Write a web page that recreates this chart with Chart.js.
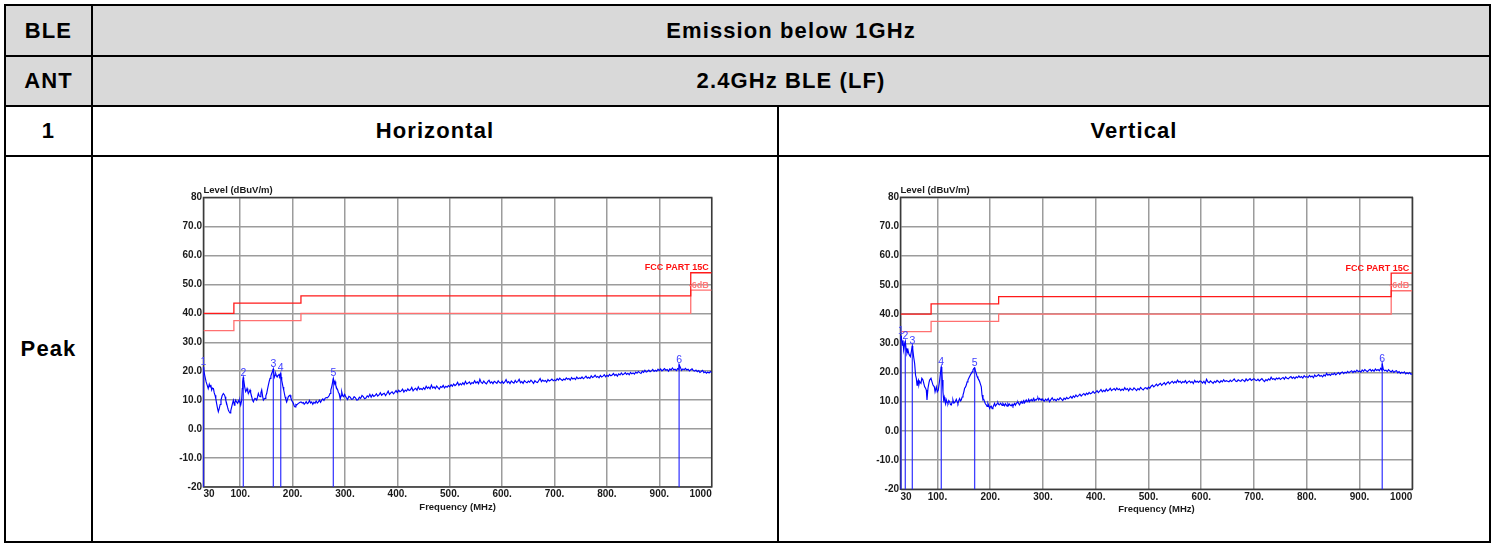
<!DOCTYPE html>
<html><head><meta charset="utf-8">
<script src="https://cdn.jsdelivr.net/npm/chart.js@4.4.1/dist/chart.umd.min.js"></script>
<style>
html,body{margin:0;padding:0;background:#fff;width:1495px;height:545px;overflow:hidden;}
.cell{position:absolute;display:flex;align-items:center;justify-content:center;font-family:"Liberation Sans",Arial,Helvetica,sans-serif;font-weight:bold;font-size:22px;letter-spacing:1.1px;color:#000;}
.gray{background:#d9d9d9;}
.ln{position:absolute;background:#000;}
canvas{position:absolute;}
</style></head>
<body>
<div class="cell gray" style="left:6px;top:6px;width:85px;height:49px;">BLE</div>
<div class="cell gray" style="left:93px;top:6px;width:1396px;height:49px;">Emission below 1GHz</div>
<div class="cell gray" style="left:6px;top:57px;width:85px;height:48px;">ANT</div>
<div class="cell gray" style="left:93px;top:57px;width:1396px;height:48px;">2.4GHz BLE (LF)</div>
<div class="cell" style="left:6px;top:107px;width:85px;height:48px;">1</div>
<div class="cell" style="left:93px;top:107px;width:684px;height:48px;">Horizontal</div>
<div class="cell" style="left:779px;top:107px;width:710px;height:48px;">Vertical</div>
<div class="cell" style="left:6px;top:157px;width:85px;height:384px;">Peak</div>
<div class="ln" style="left:4px;top:4px;width:1487px;height:2px;"></div>
<div class="ln" style="left:4px;top:541px;width:1487px;height:2px;"></div>
<div class="ln" style="left:4px;top:4px;width:2px;height:539px;"></div>
<div class="ln" style="left:1489px;top:4px;width:2px;height:539px;"></div>
<div class="ln" style="left:91px;top:4px;width:2px;height:539px;"></div>
<div class="ln" style="left:4px;top:55px;width:1487px;height:2px;"></div>
<div class="ln" style="left:4px;top:105px;width:1487px;height:2px;"></div>
<div class="ln" style="left:4px;top:155px;width:1487px;height:2px;"></div>
<div class="ln" style="left:777px;top:105px;width:2px;height:438px;"></div>
<canvas id="chartH" width="600" height="345" style="left:143px;top:175px;"></canvas>
<canvas id="chartV" width="600" height="345" style="left:840px;top:175px;"></canvas>
<script>
const FAMILY = '"Liberation Sans", Arial, Helvetica, sans-serif';
const X_TICKS = [30,100,200,300,400,500,600,700,800,900,1000];
const LIMIT_FREQ = [30,88,88,216,216,960,960,1000];
const LIMIT_LEVEL = [40,40,43.5,43.5,46,46,54,54];
const MARGIN_LEVEL = [34,34,37.5,37.5,40,40,48,48];
const MARK_NAMES = ['1','2','3','4','5','6'];
const SWEEP_START = 300, SWEEP_STEP = 2.5;

// Horizontal polarisation: low band readings [MHz, dBuV/m]
const H_LOW = [[30,20.5],[31,19.8],[33,18.0],[35,16.3],[37,15.2],[39,14.0],[41,15.5],[42.5,14.6],[44,15.3],[45.6,13.5],[47,14.2],[49,14.0],[50.5,12.5],[52,11.7],[53.5,10.5],[55,8.9],[57,7.0],[58.3,6.0],[60,7.1],[61.8,8.5],[63.4,10.0],[65.5,11.5],[67.9,12.3],[70,11.8],[71.1,11.2],[72.5,10.0],[74.2,8.9],[76,7.5],[77.4,6.6],[79,6.0],[80.6,5.6],[82,6.3],[83.8,7.7],[85.5,9.0],[87,10.0],[88.9,8.3],[90,9.2],[91.4,10.0],[93,9.4],[95.2,8.9],[96.5,9.8],[97.8,9.4],[99.3,9.7],[101,8.3],[102.9,10.0],[104,14.0],[104.8,16.3],[106.7,17.1],[108.6,14.6],[110.5,12.9],[111.8,13.3],[113.1,14.0],[114.5,13.0],[115.6,12.3],[117,12.7],[118.8,13.5],[120,12.6],[122,11.2],[123.5,10.0],[125.2,9.4],[126.8,10.2],[128.3,10.6],[130,10.3],[131.5,10.0],[133,11.0],[134.7,12.3],[136.3,11.5],[137.9,11.2],[139.5,12.5],[141.1,13.5],[142.7,11.5],[144.3,10.0],[146,10.4],[147.4,10.6],[149,11.5],[150.6,12.3],[152.2,13.8],[153.8,15.2],[155.4,16.5],[157,17.5],[158.6,18.3],[160.2,19.2],[161.5,19.8],[164,19.8],[165.3,18.0],[166.5,18.6],[167.8,19.2],[169,18.5],[170.3,18.0],[171.5,18.4],[172.9,18.6],[174.2,18.9],[175.4,18.3],[178,18.0],[179.3,16.8],[180.5,15.7],[181.8,14.5],[183.1,13.5],[184.4,12.3],[185.6,11.2],[187.2,10.2],[188.8,9.4],[190.4,10.3],[192,11.2],[193.6,11.5],[195.2,11.7],[196.8,10.8],[198.4,10.0],[200,9.4],[201.5,8.9],[203.1,8.0],[204.7,7.7],[206.3,8.5],[207.9,8.3],[209.5,8.6],[211.1,8.9],[213.6,9.2],[216.2,9.4],[218.4,9.0],[220.6,9.2],[222.2,8.6],[223.8,8.9],[226,9.5],[228,8.8],[230.2,9.1],[232.3,9.9],[234.4,9.0],[236.5,9.4],[238.6,8.6],[240.7,9.3],[242.9,8.9],[245,9.7],[247.2,9.0],[249.3,9.4],[251.4,10.0],[253.5,9.3],[255.6,10.0],[257.7,10.4],[259.9,9.9],[262,10.6],[264.1,10.9],[266.3,10.8],[268.4,11.2],[270,11.6],[271.5,12.3],[273,13.5],[274.7,14.6],[276,15.8],[279.8,15.7],[281,16.4],[282.4,15.2],[284.3,14.2],[286.2,13.5],[287.5,12.6],[288.7,12.3],[290,11.2],[291.3,10.6],[292.5,11.5],[293.8,12.9],[295.7,11.5],[297.6,11.2],[299,12.0]];
// Horizontal: sweep 300..1000 MHz every 2.5 MHz (one row = 50 MHz)
const H_HIGH = [
11.7,10.9,10.2,11.3,11.0,10.3,10.4,11.2,10.8,10.0,10.1,11.0,10.6,11.6,11.2,10.5,10.7,11.5,11.1,12.0,
11.0,11.9,11.3,11.6,12.2,11.4,11.8,12.6,11.7,12.1,12.4,11.6,12.3,13.1,12.0,12.5,12.9,12.2,12.7,13.3,
12.6,13.4,12.9,13.2,13.8,12.8,13.5,13.1,13.9,13.3,13.6,14.4,13.2,13.8,14.1,13.4,14.6,13.7,14.0,13.6,
14.3,13.7,14.8,14.1,14.5,13.9,15.2,14.2,14.6,14.0,14.9,14.3,13.8,14.7,14.4,15.1,14.2,14.8,14.5,15.0,
14.6,15.3,14.8,15.6,15.0,15.4,16.2,15.1,15.7,15.3,16.0,15.4,16.5,15.6,15.9,16.3,15.5,16.1,15.8,16.7,
15.9,16.4,15.7,17.2,16.1,15.8,16.6,16.0,15.6,16.4,16.9,15.9,16.3,15.7,16.5,16.2,15.8,16.7,16.1,15.9,
16.5,15.8,16.3,17.1,16.0,16.4,15.7,16.6,16.2,15.9,16.8,16.1,16.5,17.2,16.0,16.4,15.8,16.7,16.3,16.0,
16.6,16.2,16.9,16.4,15.8,16.7,16.3,16.1,16.8,17.5,16.4,16.9,16.5,16.8,16.2,17.1,16.6,16.9,17.3,16.7,
17.0,16.7,17.4,16.9,17.6,17.1,16.8,17.3,17.0,17.7,17.2,17.5,16.9,17.8,17.3,17.6,17.1,18.0,17.4,17.7,
17.5,18.0,17.4,17.8,18.3,17.6,17.9,17.5,18.4,17.8,18.1,18.6,17.9,18.2,17.7,18.5,18.0,18.3,18.8,18.1,
18.6,18.2,18.9,18.4,18.7,19.2,18.5,18.9,18.3,19.1,18.7,19.4,18.8,19.0,19.5,18.9,19.3,18.8,19.6,19.1,
19.4,19.0,19.7,19.3,19.9,19.5,19.2,20.0,19.6,20.3,19.7,19.9,20.4,19.8,20.1,20.6,19.9,20.3,20.0,20.7,
20.2,20.8,20.1,20.5,20.9,20.3,20.6,20.0,20.8,20.4,21.1,20.5,20.7,20.2,20.9,20.6,21.4,20.3,20.8,20.5,
21.0,20.4,20.7,20.1,20.5,20.8,20.2,20.0,20.4,19.8,20.2,19.6,19.9,20.3,19.5,19.8,19.3,19.7,19.4,19.9,
19.5];
const H_MARK_FREQ = [30.0,106.0,163.3,177.4,277.8,937.8];
const H_MARK_LEVEL = [21.5,17.8,20.8,19.3,17.5,22.3];

// Vertical polarisation
const V_LOW = [[30,31.0],[31.8,31.8],[33.5,29.4],[34.7,31.0],[36,27.7],[37.9,29.9],[40.5,28.3],[42.3,26.6],[44.2,27.7],[46.1,26.2],[48.6,25.4],[50.5,27.1],[53.2,28.0],[54.9,25.4],[56.8,23.1],[58.5,19.1],[60,18.0],[61.3,15.7],[62.5,16.8],[63.8,17.4],[65,15.9],[66.3,16.9],[68.8,16.3],[70.4,18.0],[72.6,17.4],[74.5,16.0],[75.8,15.1],[77.5,14.6],[78.9,14.0],[80.2,10.6],[82.1,14.6],[84,16.5],[85.2,17.4],[87.8,18.0],[89.6,16.9],[91.6,15.7],[94.1,15.1],[95.5,13.4],[97.9,15.1],[99.7,13.4],[101.6,14.0],[104.2,17.4],[106.2,20.5],[108.3,20.9],[109.2,17.4],[110.5,13.4],[111.8,10.6],[113,11.5],[114.3,10.0],[115.5,9.2],[116.8,10.6],[118.3,9.8],[120,9.4],[121.5,10.4],[123.1,10.0],[124.7,9.0],[126.3,8.9],[127.9,9.9],[129.4,10.6],[131,9.5],[132.6,9.7],[134.2,10.2],[135.7,10.8],[137.3,10.0],[138.9,9.4],[140.5,10.4],[142.1,11.1],[143.7,10.3],[145.2,10.6],[146.8,11.6],[148.4,12.3],[150,13.3],[151.5,14.6],[153.1,15.0],[154.7,15.7],[156.3,16.8],[157.8,17.4],[159.4,18.0],[161,18.6],[162.6,19.2],[164.2,19.7],[165.8,20.2],[167.3,20.9],[169,21.4],[172,20.6],[173.6,19.7],[175.2,18.6],[176.8,18.0],[178.3,17.6],[179.9,16.9],[181.5,16.0],[183.1,15.1],[184.5,12.3],[186.3,10.6],[187.8,10.8],[189.4,10.0],[191,9.2],[192.6,8.9],[194.1,8.4],[195.7,9.4],[197.3,8.6],[198.9,7.7],[200.5,8.3],[202,8.5],[203.6,7.6],[205.2,8.1],[206.8,8.8],[208.3,9.4],[209.9,8.5],[211.5,8.9],[213,9.3],[214.6,9.7],[216.2,9.0],[217.8,8.9],[219.4,9.5],[221,9.2],[222.5,8.7],[224.1,9.4],[225.7,9.0],[227.2,8.6],[228.8,9.3],[230.4,8.9],[232,8.5],[233.6,9.3],[235.2,8.8],[236.8,9.2],[238.4,8.7],[240,8.6],[241.5,9.1],[243.1,8.5],[244.7,9.0],[246.2,9.4],[247.8,8.8],[249.4,9.4],[251,9.7],[252.6,9.9],[254.1,9.3],[255.7,8.9],[257.3,9.6],[258.9,10.1],[260.4,9.5],[262,10.0],[263.6,10.4],[265.1,9.6],[266.7,10.1],[268.3,10.6],[269.9,10.0],[271.5,10.2],[273,10.8],[274.6,10.0],[276.2,10.5],[277.8,10.8],[279.4,10.3],[281,10.8],[282.5,11.2],[284.1,10.3],[285.7,10.7],[287.3,10.6],[288.9,11.0],[290.5,11.3],[292,10.6],[293.6,11.1],[295.2,10.8],[296.8,10.5],[298.3,11.0]];
// Vertical: sweep 300..1000 MHz every 2.5 MHz (one row = 50 MHz)
const V_HIGH = [
10.6,10.2,10.9,10.4,11.1,10.0,10.7,11.3,10.5,10.8,10.3,11.0,10.6,11.4,10.9,10.4,11.2,10.8,11.5,11.0,
11.3,11.8,11.2,12.0,11.5,12.3,11.7,12.1,12.6,11.9,12.4,12.8,12.2,12.9,12.5,13.2,12.7,13.0,13.5,12.9,
13.3,13.8,13.1,13.6,14.2,13.4,13.9,13.5,14.3,13.7,14.0,14.6,13.8,14.2,14.5,13.9,14.7,14.1,14.4,13.8,
14.3,13.9,14.8,14.1,14.5,13.7,14.6,14.2,14.0,14.7,14.3,13.8,14.5,14.1,14.9,14.4,14.0,14.6,14.8,14.3,
15.0,14.6,15.3,15.7,15.1,15.5,16.0,15.4,15.9,16.3,15.6,16.1,16.5,15.8,16.4,16.8,16.1,16.6,17.0,16.4,
16.9,16.5,17.4,16.7,17.0,16.4,16.9,16.6,17.2,16.3,16.8,17.1,16.5,16.9,16.2,17.3,16.7,17.0,16.6,17.1,
16.9,16.4,17.0,16.2,17.7,16.8,16.5,17.1,16.7,16.3,17.0,16.6,17.3,16.9,16.5,17.2,16.8,17.5,16.9,17.2,
17.0,16.8,17.4,16.9,17.3,17.8,17.1,16.9,17.5,17.2,17.0,17.6,17.3,16.9,17.8,17.2,17.5,17.9,17.3,17.6,
17.9,17.4,17.2,17.7,17.1,17.5,17.9,17.3,16.9,17.6,17.2,17.8,17.4,18.4,17.7,17.9,17.5,18.1,17.8,18.2,
17.6,18.0,18.3,17.7,18.5,18.0,17.8,18.3,18.6,18.0,18.4,17.9,18.5,18.2,18.8,18.3,18.6,18.1,18.9,18.4,
18.6,18.3,19.0,18.5,18.8,18.2,19.1,18.6,18.9,19.3,18.7,19.0,18.5,19.2,18.8,19.7,19.1,19.4,19.0,19.6,
19.3,19.8,19.2,19.6,20.0,19.4,19.9,20.2,19.6,20.1,19.8,20.4,19.9,20.3,20.6,20.0,20.5,20.2,20.8,20.3,
20.5,20.1,20.9,20.4,21.0,20.6,20.3,20.8,21.1,20.5,20.9,20.4,21.2,20.7,21.0,20.6,21.4,20.8,21.1,20.6,
20.8,20.3,21.0,20.5,20.2,20.7,20.0,20.4,20.6,19.9,20.3,19.7,20.1,19.8,20.2,19.5,19.9,19.6,20.0,19.4,
19.6];
const V_MARK_FREQ = [31.0,39.1,52.4,107.3,170.5,943.0];
const V_MARK_LEVEL = [32.5,30.7,29.1,21.9,21.6,23.0];

function buildTrace(low, high, mf, ml) {
  const pts = low.map(p => ({x: p[0], y: p[1]}));
  high.forEach((v, i) => pts.push({x: SWEEP_START + i * SWEEP_STEP, y: v}));
  mf.forEach((f, i) => pts.push({x: f, y: ml[i]}));
  return pts.sort((a, b) => a.x - b.x);
}
function buildMarkers(mf, ml) {
  const pts = [];
  mf.forEach((f, i) => { pts.push({x: f, y: -20}, {x: f, y: ml[i]}, {x: f, y: null}); });
  return pts;
}
function buildStep(levels) { return LIMIT_FREQ.map((f, i) => ({x: f, y: levels[i]})); }

const framePlugin = {
  id: 'frame',
  beforeDatasetsDraw(chart) {
    const {ctx, chartArea: a} = chart;
    ctx.save();
    ctx.strokeStyle = '#3a3a3a';
    ctx.lineWidth = 1.5;
    ctx.strokeRect(a.left, a.top, a.right - a.left, a.bottom - a.top);
    ctx.restore();
  }
};
const labelPlugin = {
  id: 'emiLabels',
  afterDatasetsDraw(chart, args, opts) {
    const {ctx, scales: {x, y}} = chart;
    ctx.save();
    ctx.font = 'normal 10.5px ' + FAMILY;
    ctx.fillStyle = '#4040ff';
    ctx.textAlign = 'center';
    ctx.textBaseline = 'alphabetic';
    opts.markF.forEach((f, i) => {
      ctx.fillText(MARK_NAMES[i], x.getPixelForValue(f), y.getPixelForValue(opts.markL[i]) - 2);
    });
    ctx.textAlign = 'right';
    ctx.font = 'bold 9px ' + FAMILY;
    ctx.fillStyle = '#ff1010';
    ctx.fillText('FCC PART 15C', x.getPixelForValue(1000) - 3, y.getPixelForValue(LIMIT_LEVEL[7]) - 2.5);
    ctx.fillStyle = '#ff7a7a';
    ctx.fillText('-6dB', x.getPixelForValue(1000) - 3, y.getPixelForValue(MARGIN_LEVEL[7]) - 2.5);
    ctx.restore();
  }
};

function makeChart(id, low, high, mf, ml, pad, xh) {
  const tickFont = {family: FAMILY, size: 10, weight: 'bold'};
  const titleFont = {family: FAMILY, size: 9.5, weight: 'bold'};
  const grid = {color: '#9c9c9c', lineWidth: 1.5, drawTicks: false};
  return new Chart(document.getElementById(id), {
    type: 'line',
    data: {datasets: [
      {data: buildStep(LIMIT_LEVEL), borderColor: '#ff1a1a', borderWidth: 1.3, pointRadius: 0, tension: 0},
      {data: buildStep(MARGIN_LEVEL), borderColor: '#ff7070', borderWidth: 1.3, pointRadius: 0, tension: 0},
      {data: buildTrace(low, high, mf, ml), borderColor: '#0000ff', borderWidth: 1.15, pointRadius: 0, tension: 0},
      {data: buildMarkers(mf, ml), borderColor: 'rgba(30,30,255,0.85)', borderWidth: 1.3, pointRadius: 0, spanGaps: false, clip: false}
    ]},
    options: {
      responsive: false, animation: false, events: [],
      layout: {padding: pad},
      plugins: {
        legend: {display: false}, tooltip: {enabled: false},
        title: {display: true, text: 'Level (dBuV/m)', align: 'start', fullSize: false, color: '#1a1a1a', font: titleFont, padding: {top: 0, bottom: 1.5}},
        emiLabels: {markF: mf, markL: ml}
      },
      scales: {
        x: {type: 'linear', min: 30, max: 1000,
          afterBuildTicks: s => { s.ticks = X_TICKS.map(v => ({value: v})); },
          afterFit: s => { s.height = xh; },
          ticks: {align: 'inner', autoSkip: false, maxRotation: 0, padding: 1.5, color: '#1a1a1a', font: tickFont,
            callback: v => (v === 30 || v === 1000) ? String(v) : v + '.'},
          grid: grid, border: {display: false},
          title: {display: true, text: 'Frequency (MHz)', color: '#1a1a1a', font: titleFont, padding: {top: 0, bottom: 0}}
        },
        y: {type: 'linear', min: -20, max: 80,
          afterFit: s => { s.width = 60; },
          ticks: {stepSize: 10, padding: 1.5, color: '#1a1a1a', font: tickFont,
            callback: v => (v === 80 || v === -20) ? String(v) : v.toFixed(1)},
          grid: grid, border: {display: false}
        }
      }
    },
    plugins: [framePlugin, labelPlugin]
  });
}

makeChart('chartH', H_LOW, H_HIGH, H_MARK_FREQ, H_MARK_LEVEL, {left: 0.5, right: 31.3, top: 9.6, bottom: 7.3}, 25.7);
makeChart('chartV', V_LOW, V_HIGH, V_MARK_FREQ, V_MARK_LEVEL, {left: 0.5, right: 27.7, top: 9.4, bottom: 5.3}, 25.4);
</script>
</body></html>
